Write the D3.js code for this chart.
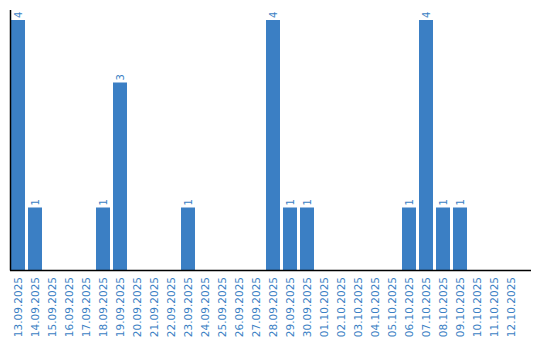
<!DOCTYPE html>
<html><head><meta charset="utf-8">
<script src="https://cdn.jsdelivr.net/npm/d3@7"></script>
<style>body{margin:0;background:#fff}svg{display:block}</style>
</head><body>
<svg id="c" width="540" height="340"></svg>
<script>
const categories = ["13.09.2025","14.09.2025","15.09.2025","16.09.2025","17.09.2025","18.09.2025","19.09.2025","20.09.2025","21.09.2025","22.09.2025","23.09.2025","24.09.2025","25.09.2025","26.09.2025","27.09.2025","28.09.2025","29.09.2025","30.09.2025","01.10.2025","02.10.2025","03.10.2025","04.10.2025","05.10.2025","06.10.2025","07.10.2025","08.10.2025","09.10.2025","10.10.2025","11.10.2025","12.10.2025"];
const values = [4,1,0,0,0,1,3,0,0,0,1,0,0,0,0,4,1,1,0,0,0,0,0,1,4,1,1,0,0,0];
const yDomain = [0,4];

const svg = d3.select("#c");
const blue = "#3b7fc4";
const x = d3.scaleBand().domain(categories).range([11, 518]).paddingInner(3/17).paddingOuter(0);
const y = d3.scaleLinear().domain(yDomain).range([270, 20]);

svg.selectAll("rect.bar").data(categories).join("rect")
  .attr("x", d => x(d)).attr("width", x.bandwidth())
  .attr("y", (d,i) => y(values[i])).attr("height", (d,i) => y(0) - y(values[i]))
  .attr("fill", blue);

svg.selectAll("text.val").data(categories.filter((d,i)=>values[i]>0)).join("text")
  .attr("transform", d => `translate(${x(d)+x.bandwidth()/2+3.5},${y(values[categories.indexOf(d)])-2}) rotate(-90)`)
  .attr("text-anchor","start").attr("font-family","DejaVu Sans, Verdana, sans-serif").attr("font-size","10px")
  .attr("fill", blue).text(d => values[categories.indexOf(d)]);

// axes
svg.append("line").attr("x1",10.5).attr("x2",10.5).attr("y1",10).attr("y2",270.5).attr("stroke","#000").attr("stroke-width",1.5);
svg.append("line").attr("x1",10).attr("x2",531).attr("y1",270.5).attr("y2",270.5).attr("stroke","#000").attr("stroke-width",1.5);

svg.selectAll("text.lab").data(categories).join("text")
  .attr("transform", d => `translate(${x(d)+x.bandwidth()/2+4},277) rotate(-90)`)
  .attr("text-anchor","end").attr("font-family","DejaVu Sans, Verdana, sans-serif").attr("font-size","10.5px")
  .attr("fill", blue).text(d => d);
</script>
</body></html>
